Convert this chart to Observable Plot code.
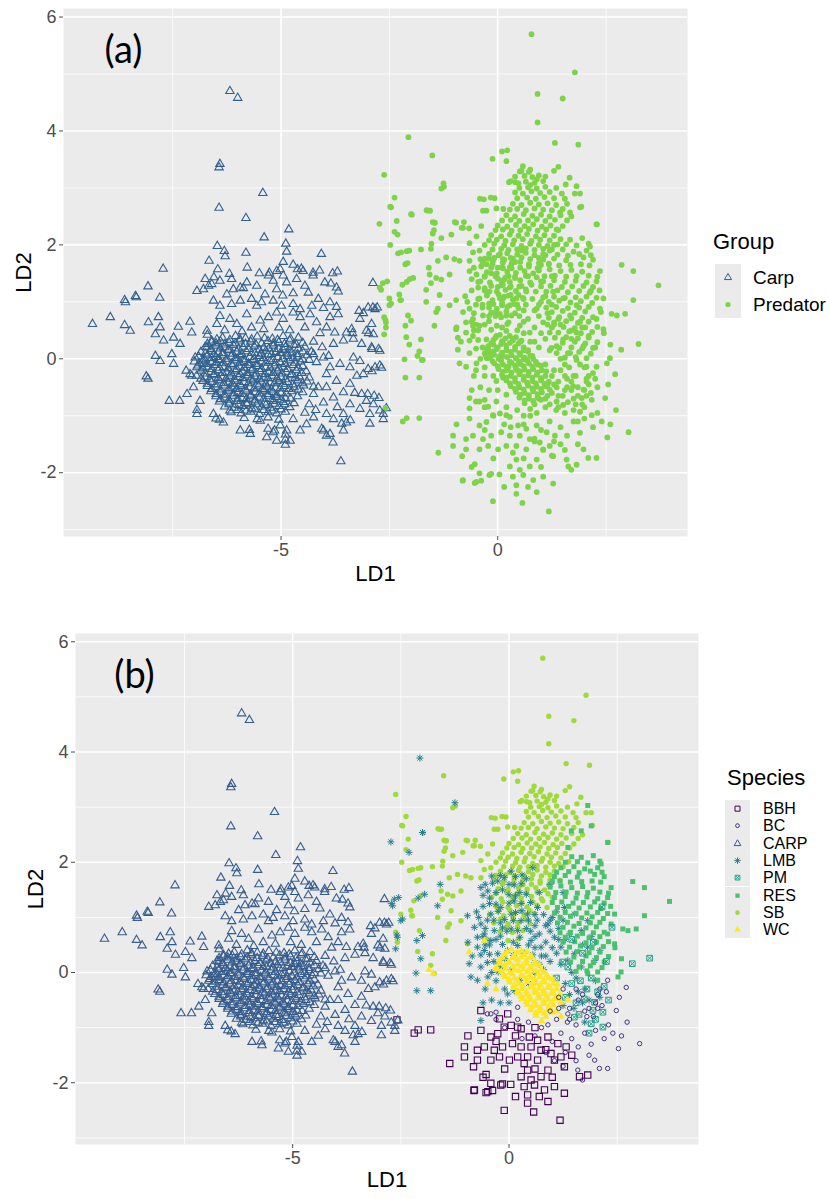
<!DOCTYPE html>
<html><head><meta charset="utf-8">
<script src="https://cdn.jsdelivr.net/npm/d3@7"></script>
<script src="https://cdn.jsdelivr.net/npm/@observablehq/plot@0.6"></script>
<style>
body{margin:0;background:#fff;font-family:"Liberation Sans",Arial,sans-serif;}
#wrap{position:relative;width:829px;height:1199px;overflow:hidden;}
.abs{position:absolute;white-space:nowrap;color:#000;}
</style></head><body><div id="wrap"></div>
<script>
// ---- axis ticks / labels ----
const xMajor = [-5, 0], xMinor = [-7.5, -2.5, 2.5];
const yMajor = [-2, 0, 2, 4, 6], yMinor = [-3, -1, 1, 3, 5];
const xDomain = [-10.02, 4.38], yDomain = [-3.12, 6.15];

// ---- categories ----
const groupNames = ["Carp", "Predator"];
const groupColors = ["#31608e", "#7ed348"];
const speciesNames = ["BBH", "BC", "CARP", "LMB", "PM", "RES", "SB", "WC"];
const speciesColors = ["#440154", "#46337E", "#365C8D", "#277F8E", "#1FA187", "#4AC16D", "#9FDA3A", "#FDE725"];

// ---- points [LD1, LD2] per species ----
const carp = [
[-6.18,4.70],[-6.00,4.58],[-6.41,3.42],[-6.43,3.36],[-5.42,2.91],[-6.43,2.65],[-5.81,2.47],[-4.82,2.27],[-5.39,2.13],[-4.89,2.02],[-6.47,1.98],[-6.31,1.89],[-6.29,1.80],[-5.81,1.86],[-4.07,1.84],[-4.87,1.88],[-7.72,1.58],[-6.66,1.72],[-6.46,1.57],[-5.78,1.60],[-4.95,1.70],[-4.72,1.65],[-4.53,1.58],[-5.50,1.50],[-5.27,1.51],[-5.10,1.54],[-5.02,1.57],[-4.62,1.57],[-4.49,1.54],[-4.26,1.51],[-4.11,1.55],[-3.70,1.53],[-3.81,1.50],[-2.88,1.33],[-8.07,1.27],[-6.94,1.19],[-6.75,1.40],[-6.55,1.43],[-6.19,1.49],[-6.14,1.40],[-6.60,1.31],[-6.41,1.37],[-5.94,1.25],[-5.79,1.34],[-5.56,1.28],[-5.29,1.46],[-5.18,1.37],[-4.95,1.46],[-4.87,1.34],[-4.64,1.40],[-4.45,1.28],[-4.26,1.46],[-3.99,1.34],[-3.72,1.25],[-3.85,1.32],[-3.68,1.18],[-6.79,1.22],[-6.67,1.28],[-8.36,1.10],[-7.80,1.07],[-8.61,1.03],[-8.34,1.08],[-8.59,0.99],
[-6.25,1.13],[-6.10,1.22],[-5.87,1.24],[-5.37,1.13],[-5.10,1.22],[-4.96,1.11],[-4.72,1.15],[-4.37,1.16],[-4.14,1.05],[-3.87,0.99],[-3.72,0.91],[-6.56,1.02],[-6.41,0.93],[-6.14,0.96],[-5.94,1.02],[-5.68,1.05],[-5.56,0.93],[-5.45,0.99],[-5.18,1.02],[-4.99,0.93],[-4.72,0.96],[-4.56,0.87],[-4.29,0.93],[-4.02,0.89],[-3.20,0.84],[-2.99,0.90],[-2.83,0.87],[-2.91,0.61],[-3.18,0.70],[-6.48,0.61],[-6.41,0.75],[-6.18,0.70],[-6.02,0.61],[-5.79,0.78],[-5.68,0.55],[-5.48,0.67],[-5.29,0.73],[-5.10,0.81],[-4.95,0.70],[-4.72,0.81],[-4.56,0.73],[-4.33,0.78],[-4.18,0.64],[-3.95,0.55],[-3.76,0.46],[-3.87,0.73],[-3.68,0.78],[-3.49,0.46],[-3.33,0.35],[-3.14,0.26],[-2.91,0.20],[-2.72,0.14],[-2.87,0.43],[-3.03,0.49],[-3.37,0.52],[-3.56,0.32],[-3.79,0.26],[-3.35,0.45],[-2.98,0.45],[-6.30,0.50],[-5.90,0.48],[-5.40,0.52],[-5.05,0.55],[-4.80,0.50],[-4.45,0.55],[-4.10,0.45],[-6.70,0.42],[-4.25,0.30],[-4.05,0.20],[-3.90,0.05],
[-9.35,0.61],[-8.94,0.73],[-8.61,0.59],[-8.48,0.49],[-8.06,0.64],[-7.83,0.73],[-7.79,0.55],[-7.90,0.43],[-7.71,0.32],[-7.48,0.37],[-7.33,0.26],[-7.37,0.56],[-7.10,0.65],[-7.06,0.46],[-7.90,0.05],[-7.79,-0.04],[-7.52,0.08],[-7.48,-0.09],[-8.11,-0.31],[-8.07,-0.35],[-7.19,-0.21],[-7.06,-0.30],[-6.94,-0.15],[-6.79,-0.09],[-6.98,0.02],[-6.71,0.20],[-6.60,0.32],[-6.71,0.49],[-7.58,-0.74],[-7.34,-0.74],[-6.94,-0.90],[-6.94,-0.97],[-6.33,-1.12],[-6.18,-0.91],[-6.56,-0.97],[-6.87,-0.74],[-7.02,-0.50],[-7.10,-0.27],[-7.17,-0.62],[-6.50,-1.05],[-6.42,-1.07],
[-5.73,-1.25],[-5.30,-1.23],[-5.15,-1.26],[-4.90,-1.33],[-4.90,-1.42],[-4.90,-1.51],[-4.06,-1.23],[-3.95,-1.35],[-3.80,-1.47],[-3.62,-1.80],[-3.60,-1.14],[-3.40,-1.08],[-2.95,-1.14],[-2.64,-0.97],[-2.57,-0.87],[-3.00,-0.62],[-2.85,-0.65],[-2.74,-0.69],[-2.68,-0.16],[-2.90,-0.22],[-2.75,0.17],[-2.90,0.17],[-3.10,0.80],[-2.88,0.90],[-2.78,0.90],
[-3.33,0.02],[-3.18,-0.04],[-2.99,-0.18],[-2.83,-0.15],[-2.72,-0.12],[-3.10,-0.27],[-3.41,-0.15],[-3.64,-0.09],[-3.87,-0.15],[-4.02,0.02],[-4.18,-0.06],[-4.25,0.08],[-3.95,-0.27],[-3.72,-0.39],[-3.41,-0.44],[-3.56,-0.59],[-3.79,-0.68],[-4.02,-0.77],[-4.25,-0.62],[-4.14,-0.50],[-3.95,-0.50],[-3.14,-0.62],[-3.03,-0.74],[-2.87,-0.80],[-2.72,-0.91],[-2.64,-1.06],[-2.95,-0.97],[-3.18,-0.88],[-3.41,-0.80],[-3.56,-0.97],[-3.79,-1.06],[-3.95,-0.97],[-3.49,-1.12],[-3.56,-1.26],[-3.87,-1.32],[-4.02,-1.26],[-4.25,-1.03],[-4.41,-1.15],[-4.56,-1.26],[-4.72,-1.06],[-4.87,-1.26],[-5.02,-1.17],[-5.18,-1.29],[-5.33,-1.38],[-5.10,-1.44],[-4.79,-1.44],[-5.71,-1.32],[-5.48,-1.09],[-5.94,-1.26],[-4.35,-0.80],[-4.20,-0.90],[-4.45,-0.95],[-3.70,-0.85],[-3.30,-0.60],[-3.25,-0.30],
[-6.35,0.37],[-6.05,0.40],[-5.82,0.36],[-5.55,0.39],[-5.20,0.35],[-4.95,0.40],[-4.60,0.37],
[-6.60,0.29],[-6.40,0.31],[-6.20,0.28],[-5.95,0.32],[-5.70,0.30],[-5.45,0.27],[-5.30,0.31],[-5.05,0.29],[-4.80,0.32],[-4.50,0.28],
[-6.75,0.21],[-6.50,0.23],[-6.30,0.20],[-6.10,0.24],[-5.88,0.21],[-5.62,0.22],[-5.40,0.19],[-5.18,0.23],[-4.90,0.20],[-4.70,0.24],[-4.45,0.21],
[-6.85,0.12],[-6.62,0.14],[-6.45,0.11],[-6.22,0.15],[-6.02,0.12],[-5.80,0.13],[-5.60,0.10],[-5.35,0.14],[-5.12,0.12],[-4.95,0.15],[-4.75,0.11],[-4.50,0.13],[-4.30,0.12],
[-6.90,0.04],[-6.70,0.06],[-6.50,0.03],[-6.35,0.07],[-6.15,0.04],[-5.95,0.06],[-5.72,0.03],[-5.50,0.05],[-5.30,0.07],[-5.08,0.03],[-4.85,0.05],[-4.62,0.04],[-4.40,0.06],
[-7.00,-0.05],[-6.80,-0.03],[-6.60,-0.06],[-6.42,-0.02],[-6.25,-0.05],[-6.05,-0.03],[-5.85,-0.06],[-5.65,-0.02],[-5.45,-0.05],[-5.25,-0.04],[-5.02,-0.06],[-4.80,-0.03],[-4.55,-0.05],[-4.35,-0.02],
[-6.92,-0.12],[-6.70,-0.14],[-6.52,-0.11],[-6.32,-0.15],[-6.12,-0.12],[-5.95,-0.14],[-5.75,-0.11],[-5.55,-0.13],[-5.35,-0.15],[-5.15,-0.12],[-4.95,-0.14],[-4.72,-0.11],[-4.50,-0.13],
[-6.85,-0.21],[-6.62,-0.23],[-6.45,-0.20],[-6.25,-0.24],[-6.05,-0.21],[-5.88,-0.23],[-5.68,-0.20],[-5.48,-0.22],[-5.28,-0.24],[-5.08,-0.21],[-4.88,-0.23],[-4.65,-0.20],[-4.42,-0.22],
[-6.95,-0.30],[-6.75,-0.32],[-6.55,-0.29],[-6.35,-0.33],[-6.18,-0.30],[-5.98,-0.32],[-5.78,-0.29],[-5.60,-0.31],[-5.40,-0.33],[-5.20,-0.30],[-5.00,-0.32],[-4.78,-0.29],[-4.58,-0.31],[-4.35,-0.33],
[-6.80,-0.39],[-6.60,-0.41],[-6.42,-0.38],[-6.22,-0.42],[-6.05,-0.39],[-5.85,-0.41],[-5.65,-0.38],[-5.45,-0.40],[-5.25,-0.42],[-5.05,-0.39],[-4.85,-0.41],[-4.62,-0.38],[-4.40,-0.40],
[-6.70,-0.48],[-6.50,-0.50],[-6.30,-0.47],[-6.12,-0.51],[-5.92,-0.48],[-5.72,-0.50],[-5.52,-0.47],[-5.32,-0.49],[-5.12,-0.51],[-4.92,-0.48],[-4.70,-0.50],[-4.48,-0.47],[-4.25,-0.49],
[-6.62,-0.57],[-6.40,-0.59],[-6.20,-0.56],[-6.00,-0.60],[-5.80,-0.57],[-5.60,-0.59],[-5.40,-0.56],[-5.20,-0.58],[-5.00,-0.60],[-4.75,-0.57],[-4.50,-0.59],
[-6.50,-0.66],[-6.30,-0.68],[-6.10,-0.65],[-5.90,-0.69],[-5.70,-0.66],[-5.50,-0.68],[-5.30,-0.65],[-5.10,-0.67],[-4.90,-0.69],[-4.62,-0.66],
[-6.42,-0.75],[-6.20,-0.77],[-6.00,-0.74],[-5.80,-0.78],[-5.60,-0.75],[-5.38,-0.77],[-5.18,-0.74],[-4.95,-0.76],[-4.70,-0.78],
[-6.30,-0.84],[-6.08,-0.86],[-5.88,-0.83],[-5.68,-0.87],[-5.45,-0.84],[-5.25,-0.86],[-5.05,-0.83],[-4.80,-0.85],
[-6.15,-0.94],[-5.92,-0.96],[-5.70,-0.93],[-5.50,-0.97],[-5.30,-0.94],[-5.10,-0.96],[-4.90,-0.93],
[-5.85,-1.04],[-5.55,-1.06],[-5.30,-1.03],[-5.05,-1.07],
[-6.48,0.34],[-6.18,0.33],[-5.95,0.35],[-5.68,0.34],[-5.38,0.36],[-5.08,0.33],[-4.78,0.35],
[-6.70,0.26],[-6.50,0.27],[-6.30,0.25],[-6.05,0.27],[-5.82,0.26],[-5.58,0.25],[-5.18,0.27],[-4.92,0.26],[-4.65,0.25],
[-6.62,0.17],[-6.40,0.18],[-6.20,0.16],[-5.98,0.18],[-5.75,0.17],[-5.50,0.16],[-5.28,0.18],[-5.05,0.17],[-4.82,0.16],[-4.60,0.18],
[-6.75,0.09],[-6.55,0.08],[-6.35,0.10],[-6.12,0.09],[-5.90,0.08],[-5.68,0.10],[-5.45,0.09],[-5.22,0.08],[-5.02,0.10],[-4.85,0.09],[-4.62,0.08],
[-6.78,0.00],[-6.60,0.01],[-6.45,-0.01],[-6.25,0.00],[-6.05,0.01],[-5.85,-0.01],[-5.62,0.00],[-5.40,0.01],[-5.18,-0.01],[-4.95,0.00],[-4.72,0.01],[-4.50,-0.01],
[-6.88,-0.08],[-6.70,-0.09],[-6.50,-0.07],[-6.33,-0.08],[-6.15,-0.09],[-5.95,-0.07],[-5.75,-0.08],[-5.55,-0.09],[-5.35,-0.07],[-5.13,-0.08],[-4.90,-0.09],[-4.68,-0.07],
[-6.80,-0.17],[-6.60,-0.18],[-6.42,-0.16],[-6.22,-0.17],[-6.02,-0.18],[-5.85,-0.16],[-5.65,-0.17],[-5.45,-0.18],[-5.25,-0.16],[-5.05,-0.17],[-4.85,-0.18],[-4.60,-0.16],
[-6.75,-0.26],[-6.55,-0.27],[-6.35,-0.25],[-6.15,-0.26],[-5.95,-0.27],[-5.78,-0.25],[-5.58,-0.26],[-5.38,-0.27],[-5.18,-0.25],[-4.98,-0.26],[-4.75,-0.27],[-4.52,-0.25],
[-6.85,-0.35],[-6.65,-0.36],[-6.45,-0.34],[-6.27,-0.35],[-6.08,-0.36],[-5.88,-0.34],[-5.70,-0.35],[-5.50,-0.36],[-5.30,-0.34],[-5.10,-0.35],[-4.90,-0.36],[-4.68,-0.34],
[-6.70,-0.44],[-6.50,-0.45],[-6.32,-0.43],[-6.12,-0.44],[-5.95,-0.45],[-5.75,-0.43],[-5.55,-0.44],[-5.35,-0.45],[-5.15,-0.43],[-4.95,-0.44],[-4.72,-0.45],[-4.50,-0.43],
[-6.60,-0.53],[-6.40,-0.54],[-6.20,-0.52],[-6.02,-0.53],[-5.82,-0.54],[-5.62,-0.52],[-5.42,-0.53],[-5.22,-0.54],[-5.02,-0.52],[-4.82,-0.53],[-4.60,-0.54],
[-6.50,-0.62],[-6.30,-0.63],[-6.10,-0.61],[-5.90,-0.62],[-5.70,-0.63],[-5.50,-0.61],[-5.30,-0.62],[-5.10,-0.63],[-4.88,-0.61],
[-6.40,-0.71],[-6.20,-0.72],[-6.00,-0.70],[-5.80,-0.71],[-5.60,-0.72],[-5.40,-0.70],[-5.20,-0.71],[-5.00,-0.72],[-4.78,-0.70],
[-6.20,-0.80],[-5.98,-0.81],[-5.78,-0.79],[-5.56,-0.80],[-5.35,-0.81],[-5.15,-0.79],[-4.92,-0.80],
[-6.00,-0.90],[-5.80,-0.91],[-5.60,-0.89],[-5.40,-0.90],[-5.20,-0.91],[-5.00,-0.89]
];

const bbh = [
[-2.59,-0.86],[-2.19,-1.10],[-2.10,-1.04],[-1.81,-1.04],[-1.37,-1.65],[-1.03,-1.35],[-1.03,-1.53],[-0.82,-1.71],[-0.53,-1.85],[-0.81,-2.14],[-0.53,-2.18],[-0.38,-2.14],[-0.15,-2.02],[0.04,-2.03],
[-0.65,-0.69],[-0.22,-0.84],[-0.03,-0.75],[0.20,-0.99],[-0.65,-1.05],[-0.42,-1.17],[-0.26,-1.11],[-0.11,-0.99],[0.05,-0.96],[0.28,-1.02],[0.47,-1.17],[0.66,-1.23],[0.90,-1.17],[1.13,-1.29],[1.32,-1.35],[1.20,-1.53],[0.97,-1.47],[0.74,-1.41],[0.51,-1.35],[0.28,-1.35],[0.08,-1.29],[-0.15,-1.35],[-0.34,-1.41],[-0.57,-1.35],[-0.73,-1.41],[-0.73,-1.59],[-0.42,-1.59],[-0.22,-1.53],[0.01,-1.59],[0.20,-1.53],[0.43,-1.53],[0.66,-1.59],[1.05,-1.59],[1.28,-1.71],[0.90,-1.77],[0.43,-1.77],[0.28,-1.89],[0.51,-1.95],[0.74,-1.89],[0.35,-2.07],[0.59,-2.04],[0.82,-2.13],[1.05,-2.07],[1.28,-2.19],[0.43,-2.22],[0.43,-2.37],[0.90,-2.34],[-0.42,-2.01],[-0.19,-2.04],[-0.80,-2.13],[-0.49,-2.16],[-0.11,-2.50],[0.57,-2.53],[1.18,-2.68],[1.82,-1.86],[1.63,-1.89],
[-0.30,-1.25],[0.15,-1.15],[0.60,-1.00],[0.85,-1.40],[0.35,-1.65],[-0.10,-1.75],[0.60,-1.75],[1.00,-1.90],[0.15,-2.25],[0.70,-2.25],[-0.60,-1.90],[-0.95,-1.15],[1.45,-1.50]
];

const bc = [
[2.71,-0.27],[3.02,-1.29],[2.73,-0.90],[2.53,-1.38],[1.98,-1.59],[2.09,-1.74],[2.28,-1.74],[1.59,-1.77],[1.55,-1.60],[2.48,-0.69],[2.28,-0.14],[2.10,-0.30],[2.05,-0.40],[2.30,-0.95],[2.20,-1.20],[2.40,-1.10],[1.90,-1.30],[1.75,-1.10],[1.60,-1.35],[1.45,-1.20],[1.30,-1.45],[1.20,-1.10],[1.00,-1.25],[0.90,-0.95],[1.10,-0.85],[1.35,-0.90],[1.55,-0.95],[1.75,-0.70],[1.95,-0.80],[2.15,-0.60],[1.40,-0.65],[0.75,-1.00],[0.60,-1.15],[0.45,-0.90],[0.30,-1.20],[0.20,-0.85],[-0.10,-1.00],[-0.30,-0.85],[-0.50,-0.75],[1.85,-1.50],[1.05,-1.60],[0.85,-1.45],[1.60,-0.50],[2.55,-0.45],[1.25,-1.70],[2.00,-1.05],[2.60,-1.15],[1.70,-1.95],[-0.42,-0.75],[-0.30,-0.72],[0.20,-0.63],[1.36,-0.75],
[0.95,-0.70],[1.15,-0.65],[1.70,-0.40],[1.85,-0.65],[2.05,-0.65],[1.25,-0.30],[1.55,-0.30],[2.00,-0.55],[1.80,-0.80],[1.40,-0.85],[2.25,-0.35],[1.15,-0.45]
];

const lmb = [
[-2.06,3.89],[-1.25,3.08],[-2.00,2.54],[-2.73,2.37],[-2.31,2.18],[-1.59,1.60],[-2.65,1.33],[-2.55,1.36],[-2.72,1.25],[-2.10,1.35],[-1.95,1.42],[-1.65,1.21],[-0.96,1.03],[-2.46,0.97],[-2.00,0.67],[-2.58,0.64],[-2.62,0.43],[-2.04,0.25],[-2.15,-0.01],[-2.13,-0.33],[-1.81,-0.33],[-0.92,0.16],[-0.73,-0.14],[-0.65,-0.87],[-2.59,0.68],[-2.13,0.58],[-2.50,0.94],[-2.69,1.21],
[-0.65,1.54],[-0.49,1.48],[-0.26,1.66],[-0.11,1.72],[0.05,1.84],[-0.80,0.82],[-0.65,0.88],[-0.57,0.70],[-0.34,0.76],[-0.42,0.58],[-0.73,0.46],[-0.57,0.40],[-0.26,0.34],[-0.03,0.40],[-0.42,1.06],[-0.19,1.18],[0.12,1.30],[0.28,0.94],[0.43,1.06],[0.66,1.18],[0.90,0.88],[1.05,0.64],[1.20,0.46],[1.36,0.22],[1.67,0.10],[1.51,0.34],[1.82,0.46],[1.98,0.22],[1.67,0.76],[1.82,0.94],[1.51,1.06],[1.28,1.18],[0.51,0.58],[0.74,0.46],[0.20,0.76],[0.05,1.06],[-0.65,0.10],[-0.49,-0.08],[-0.88,-0.08],[-0.19,0.10],[0.12,-0.33],[-0.03,-0.39],[-0.73,0.64],
[-0.45,1.35],[-0.30,1.45],[-0.15,1.50],[0.00,1.60],[-0.60,1.20],[-0.50,0.95],[-0.20,0.90],[-0.05,0.75],[0.10,0.55],[-0.35,0.20],[-0.10,0.25],[0.25,1.45],[0.40,1.70],[0.55,1.90],[0.35,0.35],[0.60,0.85],[0.85,0.30],[1.00,1.00],[1.15,0.80],[1.40,0.70],[1.70,0.50],[1.90,0.65],[1.55,-0.10],[1.75,-0.30],[2.00,-0.15],[1.30,-0.20],[0.80,0.05],[-0.55,0.50],[-0.85,0.30],[-0.95,0.55],[-0.70,1.00],[-0.30,0.60],[0.05,0.05],[0.45,-0.20],[2.10,0.40],[1.25,1.45],[0.95,1.60],[0.70,1.45],
[-0.40,1.75],[-0.20,1.76],[0.15,1.74],[0.30,1.77],[-0.55,1.60],[-0.38,1.62],[0.12,1.59],[0.28,1.61],[-0.60,1.40],[0.00,1.41],[0.15,1.39],[0.40,1.42],[-0.45,1.25],[-0.30,1.24],[0.00,1.26],[0.28,1.25],[0.50,1.27],[-0.75,1.10],[-0.25,1.11],[0.15,1.09],[0.30,1.12],
[-0.35,0.95],[-0.10,0.96],[0.10,0.94],[0.45,0.95],[-0.55,0.80],[-0.15,0.81],[0.05,0.79],[0.40,0.80],[-0.60,0.65],[-0.20,0.66],[0.25,0.64],[0.60,0.65],[-0.45,0.50],[-0.15,0.51],[0.20,0.49],[0.45,0.50],[-0.65,0.32],[-0.45,0.33],[0.10,0.31],[0.55,0.32],[-0.50,0.18],[-0.25,0.17],[0.60,0.18],[-0.40,0.00],[-0.25,0.01],[0.60,-0.01],[-0.30,-0.15],[0.25,-0.14],
[1.40,-0.40],[1.60,-0.35],[1.85,-0.50],[2.10,-0.45],[1.25,-0.60],[1.50,-0.65],[1.75,-0.90],[1.45,0.00],[1.70,-0.55],
[0.65,0.95],[0.80,1.05],[0.95,0.75],[0.70,0.70],[0.85,0.55],[1.00,0.45],[0.75,0.30],[0.95,0.20],[1.10,0.35],[1.15,0.60],[0.60,0.45],[0.50,0.75],[0.95,0.95],[1.10,1.10],[0.85,0.85],[0.60,1.05],[0.70,0.15],[1.20,0.15],[1.25,0.95],[1.30,0.60],
[-0.55,-0.30],[-0.40,-0.50],[-0.20,-0.55],[-0.60,-0.55],[0.00,-0.55],[-0.10,-0.30]
];

const pm = [
[2.15,1.19],[2.38,0.82],[2.85,0.16],[3.25,0.26],[1.74,-0.48],[1.98,-0.54],[1.94,-0.69],[2.17,-0.72],[1.51,-0.81],[1.62,-0.76],[1.90,-0.93],[2.17,-0.99],[1.24,0.19],[1.36,0.10],[1.80,-0.30],[2.05,-0.35],[1.55,-0.55],[1.30,-0.45],[2.30,-0.50],[1.70,0.35],[1.95,0.55],[2.25,0.20],[1.45,0.60],[1.10,-0.10],[1.85,-1.10],[2.00,-0.85],
[1.45,-0.20],[1.65,-0.15],[1.90,-0.10],[2.20,-0.25]
];

const res = [
[1.82,3.03],[1.90,2.66],[2.28,2.36],[1.67,2.57],[1.44,2.57],[1.36,2.27],[2.13,1.97],[2.86,1.65],[3.13,1.54],[3.71,1.29],[3.13,1.03],[2.94,0.79],[2.75,0.76],[2.63,0.79],[2.59,0.01],[2.52,-0.08],[2.05,-0.14],[1.82,-0.02],[2.45,0.45],[2.60,0.25],
[1.45,2.10],[1.67,2.09],[1.95,2.12],[1.20,1.90],[1.50,1.92],[1.75,1.88],[2.05,1.90],[1.05,1.74],[1.30,1.76],[1.58,1.73],[1.98,1.78],[2.20,1.74],
[0.95,1.55],[1.20,1.57],[1.45,1.54],[1.70,1.56],[1.95,1.53],[2.36,1.54],[1.05,1.36],[1.30,1.38],[1.55,1.35],[1.80,1.37],[2.05,1.34],[2.28,1.36],
[1.12,1.18],[1.38,1.20],[1.62,1.17],[1.88,1.19],[2.12,1.16],[2.35,1.20],[1.18,1.00],[1.42,1.02],[1.68,0.99],[1.92,1.01],[2.18,0.98],[2.44,1.06],
[1.25,0.82],[1.50,0.84],[1.78,0.81],[2.02,0.83],[2.36,0.88],[1.30,0.64],[1.58,0.66],[1.85,0.63],[2.10,0.65],[2.28,0.70],
[1.40,0.46],[1.65,0.48],[1.92,0.45],[2.18,0.47],[2.44,0.52],[1.50,0.28],[1.78,0.30],[2.02,0.27],[2.30,0.29],[1.62,0.10],[1.88,0.12],[2.15,0.09],
[1.30,2.00],[1.58,2.01],[1.82,1.99],[2.10,2.02],[1.10,1.82],[1.38,1.83],[1.62,1.81],[1.88,1.84],[2.15,1.82],[1.00,1.65],[1.18,1.66],[1.42,1.64],[1.68,1.65],[1.92,1.66],[2.12,1.64],
[1.08,1.45],[1.32,1.46],[1.58,1.44],[1.82,1.45],[2.10,1.46],[2.30,1.44],[1.00,1.27],[1.22,1.28],[1.48,1.26],[1.72,1.27],[1.98,1.28],[2.20,1.26],
[1.05,1.08],[1.30,1.09],[1.55,1.07],[1.80,1.08],[2.05,1.09],[2.28,1.07],[1.12,0.90],[1.35,0.91],[1.62,0.89],[1.88,0.90],[2.10,0.91],
[1.18,0.72],[1.42,0.73],[1.70,0.71],[1.95,0.72],[2.20,0.73],[1.25,0.55],[1.52,0.56],[1.78,0.54],[2.02,0.55],[2.30,0.56],
[1.32,0.37],[1.58,0.38],[1.85,0.36],[2.10,0.37],[1.42,0.19],[1.70,0.20],[1.95,0.18],[2.20,0.19],[1.55,0.02],[1.80,0.03],[2.05,0.01]
];

const sb = [
[0.78,5.70],[1.78,5.03],[0.92,4.65],[1.50,4.57],[0.92,4.15],[1.32,3.79],[1.86,3.76],[-1.51,3.57],[-2.62,3.23],[-1.30,2.99],[-1.24,3.02],[-0.12,3.51],[0.10,3.64],[0.22,3.66],[0.20,3.47],[0.58,3.38],[0.75,3.32],[0.51,3.29],[1.30,3.30],[0.26,3.10],[0.41,3.10],[0.75,3.05],[0.90,3.15],[1.10,3.20],[1.40,3.37],[1.57,3.06],[1.66,3.18],[1.78,2.90],[1.90,2.90],[1.93,2.67],[2.29,2.36],[-2.38,2.83],[-0.32,2.80],[-0.07,2.82],[-0.41,2.81],[-0.16,2.83],[-0.03,2.64],[0.13,2.63],[-0.26,2.60],[-1.56,2.60],[-1.64,2.61],[-1.98,2.53],[-0.78,2.40],[-0.66,2.29],[-1.45,2.39],[-1.47,2.26],[-1.50,2.40],[-1.50,2.20],[-1.53,2.02],[-0.99,2.40],[-0.83,2.30],
[-2.48,2.67],[-2.33,2.42],[-2.38,2.23],[-2.48,2.00],[-2.30,1.85],[-2.10,1.89],[-2.13,1.66],[-2.20,1.30],[-2.03,1.40],[-2.50,1.06],[-2.27,1.13],[-2.62,0.73],[-2.07,0.76],[-2.58,0.55],[-2.11,0.38],[-2.25,1.03],
[-2.46,2.66],[-2.23,1.87],[-2.04,1.90],[-1.77,1.92],[-2.08,1.68],[-1.61,2.60],[-1.46,2.39],[-1.30,2.12],[-1.07,2.18],[-0.96,2.39],[-0.80,2.30],[-1.19,1.78],[-1.00,1.75],[-1.38,1.72],[-1.54,1.93],[-0.34,2.60],[-0.65,2.03],[-0.49,2.15],[-0.38,2.33],[-0.57,1.87],[-0.42,1.90],
[-1.57,1.48],[-1.42,1.42],[-1.30,1.39],[-1.11,1.48],[-1.54,1.33],[-1.34,1.12],[-1.65,1.00],[-2.23,1.03],[-1.38,0.88],[-1.42,0.82],[-1.11,0.94],[-0.96,0.52],[-1.46,0.58],[-1.77,0.34],[-1.81,0.13],[-1.73,-0.02],[-0.88,1.72],[-0.65,1.72],
[0.55,3.30],[0.72,3.28],[0.30,3.12],[0.48,3.08],[0.65,3.11],[0.85,3.09],[1.05,3.12],
[0.40,2.92],[0.58,2.90],[0.78,2.94],[0.98,2.91],[1.20,2.93],[1.48,2.90],
[0.35,2.72],[0.55,2.70],[0.75,2.74],[0.95,2.71],[1.15,2.73],[1.35,2.70],[1.60,2.72],
[0.20,2.52],[0.40,2.50],[0.60,2.54],[0.80,2.51],[1.00,2.53],[1.20,2.50],[1.45,2.52],[1.70,2.50],
[0.00,2.34],[0.22,2.32],[0.42,2.35],[0.62,2.33],[0.82,2.36],[1.02,2.32],[1.22,2.34],[1.50,2.33],
[-0.15,2.17],[0.08,2.15],[0.28,2.18],[0.48,2.16],[0.68,2.19],[0.88,2.15],[1.08,2.17],[1.30,2.16],
[-0.30,2.00],[-0.08,2.02],[0.15,1.99],[0.35,2.01],[0.55,1.98],[0.75,2.02],[0.95,2.00],[1.15,1.98],[1.38,2.01],
[-0.20,1.84],[0.02,1.82],[0.22,1.85],[0.45,1.83],[0.65,1.86],[0.85,1.82],[1.05,1.84],
[-0.35,1.68],[-0.12,1.66],[0.12,1.69],[0.32,1.67],[0.52,1.70],[0.72,1.66],[0.95,1.68],[1.18,1.67],
[-0.25,1.52],[-0.02,1.50],[0.22,1.53],[0.42,1.51],[0.62,1.54],[0.82,1.50],
[-0.40,1.36],[-0.18,1.34],[0.08,1.37],[0.28,1.35],[0.52,1.38],[0.75,1.34],[1.00,1.36],
[-0.30,1.20],[-0.02,1.18],[0.18,1.21],[0.42,1.19],[0.65,1.22],[0.88,1.18],
[-0.45,1.05],[-0.12,1.03],[0.12,1.06],[0.35,1.04],[0.58,1.07],
[-0.35,0.90],[-0.02,0.88],[0.22,0.91],[0.48,0.89],
[-0.20,0.75],[0.08,0.73],[0.32,0.76],[-0.50,0.60],[-0.02,0.58],[0.22,0.61],
[0.40,3.20],[0.62,3.21],[0.80,3.19],[0.95,3.22],[0.50,3.00],[0.70,3.01],[0.90,2.99],[1.10,3.02],[1.35,3.00],
[0.45,2.82],[0.68,2.83],[0.88,2.81],[1.08,2.84],[1.30,2.82],[1.55,2.81],[0.28,2.62],[0.45,2.63],[0.65,2.61],[0.85,2.64],[1.05,2.62],[1.25,2.61],[1.50,2.63],
[0.10,2.43],[0.30,2.44],[0.50,2.42],[0.70,2.43],[0.90,2.45],[1.10,2.42],[1.32,2.44],[1.60,2.43],
[-0.05,2.26],[0.12,2.27],[0.32,2.25],[0.52,2.26],[0.72,2.28],[0.92,2.25],[1.12,2.27],[1.40,2.26],
[-0.20,2.08],[-0.02,2.09],[0.18,2.07],[0.38,2.08],[0.58,2.10],[0.78,2.07],[0.98,2.09],[1.20,2.08],
[-0.12,1.92],[0.08,1.93],[0.25,1.91],[0.45,1.92],[0.65,1.94],[0.85,1.91],[1.05,1.93],[1.25,1.92],
[-0.30,1.76],[-0.08,1.77],[0.12,1.75],[0.35,1.76],[0.55,1.78],[0.75,1.75],[0.95,1.77],
[-0.15,1.60],[0.10,1.61],[0.32,1.59],[0.52,1.60],[0.72,1.62],[0.92,1.59],
[-0.30,1.44],[-0.05,1.45],[0.18,1.43],[0.40,1.44],[0.65,1.46],[0.90,1.43],
[-0.15,1.28],[0.08,1.29],[0.30,1.27],[0.55,1.28],[0.78,1.30],
[-0.25,1.12],[0.02,1.13],[0.25,1.11],[0.48,1.12],[-0.20,0.97],[0.10,0.98],[0.38,0.96],[-0.05,0.82],[0.20,0.83]
];

const wc = [
[-0.92,0.37],[-0.57,0.58],[-0.50,-0.20],[-0.30,-0.30],[-1.85,0.05],[-1.75,-0.02],[1.36,-0.50],[1.20,-0.80],
[0.05,0.42],[0.28,0.40],[-0.10,0.33],[0.12,0.30],[0.35,0.32],[0.52,0.30],
[-0.22,0.22],[0.00,0.20],[0.20,0.23],[0.40,0.21],[0.60,0.20],
[-0.30,0.10],[-0.10,0.13],[0.10,0.11],[0.30,0.12],[0.50,0.10],[0.70,0.13],
[-0.18,0.02],[0.02,0.00],[0.22,0.03],[0.42,0.01],[0.62,0.02],[0.82,0.00],
[-0.08,-0.08],[0.12,-0.10],[0.32,-0.07],[0.52,-0.09],[0.72,-0.08],[0.92,-0.10],
[0.02,-0.18],[0.22,-0.20],[0.42,-0.17],[0.62,-0.19],[0.82,-0.18],[1.02,-0.20],
[0.10,-0.28],[0.30,-0.30],[0.50,-0.27],[0.70,-0.29],[0.90,-0.28],[1.10,-0.30],
[0.20,-0.38],[0.40,-0.40],[0.60,-0.37],[0.80,-0.39],[1.00,-0.38],[1.18,-0.40],
[0.30,-0.48],[0.50,-0.50],[0.70,-0.47],[0.90,-0.49],[1.10,-0.48],
[0.42,-0.58],[0.62,-0.60],[0.82,-0.57],[1.02,-0.59],
[0.50,-0.68],[0.72,-0.70],[0.92,-0.67],[1.10,-0.70],[0.62,-0.78],[0.85,-0.80],[0.75,-0.88],
[-0.05,0.37],[0.18,0.36],[0.42,0.38],[-0.15,0.27],[0.08,0.26],[0.28,0.28],[0.48,0.27],
[-0.22,0.16],[-0.02,0.17],[0.20,0.15],[0.40,0.16],[0.60,0.15],[-0.28,0.06],[-0.08,0.07],[0.12,0.05],[0.32,0.06],[0.52,0.07],[0.75,0.05],
[-0.12,-0.04],[0.08,-0.03],[0.28,-0.05],[0.48,-0.04],[0.68,-0.03],[0.88,-0.05],[0.00,-0.13],[0.20,-0.14],[0.40,-0.12],[0.60,-0.13],[0.80,-0.14],[1.00,-0.12],
[0.12,-0.23],[0.32,-0.24],[0.52,-0.22],[0.72,-0.23],[0.92,-0.24],[1.12,-0.22],[0.20,-0.33],[0.40,-0.34],[0.60,-0.32],[0.80,-0.33],[1.00,-0.34],
[0.28,-0.43],[0.48,-0.44],[0.68,-0.42],[0.88,-0.43],[1.08,-0.44],[0.40,-0.53],[0.60,-0.54],[0.80,-0.52],[1.00,-0.53],[1.20,-0.54],
[0.52,-0.63],[0.72,-0.64],[0.92,-0.62],[0.62,-0.73],[0.82,-0.74],[1.00,-0.72]
];

// ---- drawing ----
const root = document.getElementById("wrap");
const FONT = "'Liberation Sans', Arial, Helvetica, sans-serif";
const px = d => d[0], py = d => d[1];
const fmt = d => String(d);

function dots(data, symbol, r, color, filled, sw = 1) {
  return Plot.dot(data, filled
    ? {x: px, y: py, symbol, r, fill: color, stroke: "none"}
    : {x: px, y: py, symbol, r, stroke: color, fill: "none", strokeWidth: sw});
}

function makePanel(o) {
  const svg = Plot.plot({
    width: o.width, height: o.height,
    marginTop: o.mt, marginBottom: o.mb, marginLeft: o.ml, marginRight: o.mr,
    x: {domain: xDomain, axis: null},
    y: {domain: yDomain, axis: null},
    style: {fontFamily: FONT, background: "transparent", overflow: "visible"},
    marks: [
      Plot.frame({fill: "#ebebeb", stroke: null}),
      Plot.ruleX(xMinor, {stroke: "#ffffff", strokeWidth: 0.8}),
      Plot.ruleY(yMinor, {stroke: "#ffffff", strokeWidth: 0.8}),
      Plot.ruleX(xMajor, {stroke: "#ffffff", strokeWidth: 1.6}),
      Plot.ruleY(yMajor, {stroke: "#ffffff", strokeWidth: 1.6}),
      ...o.layers,
      Plot.axisX(xMajor, {tickSize: 4, tickPadding: 3, fontSize: 18, color: "#4d4d4d", label: null, tickFormat: fmt}),
      Plot.axisY(yMajor, {tickSize: 4, tickPadding: 3, fontSize: 18, color: "#4d4d4d", label: null, tickFormat: fmt}),
      Plot.text(["LD1"], {text: d => d, frameAnchor: "bottom", dy: o.xlabDy, fontSize: 22, fill: "#000"}),
      Plot.text(["LD2"], {text: d => d, frameAnchor: "left", dx: o.ylabDx, rotate: -90, textAnchor: "middle", fontSize: 22, fill: "#000"}),
      Plot.text([o.label], {text: d => d, frameAnchor: "top-left", dx: o.labDx, dy: o.labDy, textAnchor: "middle", lineAnchor: "middle", fontSize: 38, fontFamily: "Lato, 'Open Sans', sans-serif", fill: "#000"})
    ]
  });
  svg.style.position = "absolute";
  svg.style.left = "0px";
  svg.style.top = o.top + "px";
  root.appendChild(svg);
}

const predators = [...bbh, ...bc, ...lmb, ...pm, ...res, ...sb, ...wc];

makePanel({
  top: 0, width: 700, height: 600, mt: 8, mb: 64, ml: 63, mr: 13,
  xlabDy: 44, ylabDx: -40, label: "(a)", labDx: 60, labDy: 42,
  layers: [
    dots(carp, "triangle2", 4, groupColors[0], false, 1.1),
    dots(predators, "circle", 2.9, groupColors[1], true)
  ]
});

makePanel({
  top: 600, width: 710, height: 599, mt: 33, mb: 55, ml: 75, mr: 12,
  xlabDy: 42, ylabDx: -40, label: "(b)", labDx: 59, labDy: 42,
  layers: [
    dots(sb, "circle", 2.7, speciesColors[6], true),
    dots(lmb, "plus", 2.4, speciesColors[3], false, 1),
    dots(lmb, "times", 2.4, speciesColors[3], false, 1),
    dots(res, "square", 2.8, speciesColors[5], true),
    dots(pm, "square2", 3.6, speciesColors[4], false, 1),
    dots(pm, "times", 2.2, speciesColors[4], false, 1),
    dots(wc, "triangle", 2.8, speciesColors[7], true),
    dots(bc, "circle", 2.2, speciesColors[1], false, 1),
    dots(bbh, "square2", 4, speciesColors[0], false, 1.1),
    dots(carp, "triangle2", 4, speciesColors[2], false, 1.1)
  ]
});

// ---- legends ----
function symPath(name, r) {
  const t = {circle: d3.symbolCircle, square: d3.symbolSquare, square2: d3.symbolSquare2,
    triangle: d3.symbolTriangle, triangle2: d3.symbolTriangle2, plus: d3.symbolPlus, times: d3.symbolTimes}[name];
  return d3.symbol(t, Math.PI * r * r)();
}
function keySvg(w, h, parts) {
  let s = `<svg width="${w}" height="${h}" style="display:block;background:#ebebeb"><g transform="translate(${w/2},${h/2})">`;
  for (const p of parts) {
    s += `<path d="${symPath(p.s, p.r)}" fill="${p.fill || "none"}" stroke="${p.stroke || "none"}" stroke-width="${p.sw || 1}"/>`;
  }
  return s + "</g></svg>";
}
function addDiv(html, left, top, style) {
  const d = document.createElement("div");
  d.className = "abs";
  d.style.left = left + "px"; d.style.top = top + "px";
  Object.assign(d.style, style || {});
  d.innerHTML = html;
  root.appendChild(d);
  return d;
}

// Legend (a)
addDiv("Group", 713, 231, {fontSize: "22px", lineHeight: "22px"});
const groupKeys = [
  [{s: "triangle2", r: 3.4, stroke: groupColors[0], sw: 1}],
  [{s: "circle", r: 2.6, fill: groupColors[1]}]
];
groupNames.forEach((g, i) => {
  addDiv(keySvg(26, 27, groupKeys[i]), 715, 264 + i * 27);
  addDiv(g, 753, 264 + i * 27, {fontSize: "19px", lineHeight: "27px"});
});

// Legend (b)
addDiv("Species", 727, 767, {fontSize: "22px", lineHeight: "22px"});
const speciesKeys = [
  [{s: "square2", r: 3.2, stroke: speciesColors[0], sw: 1}],
  [{s: "circle", r: 1.9, stroke: speciesColors[1], sw: 1}],
  [{s: "triangle2", r: 3.2, stroke: speciesColors[2], sw: 1}],
  [{s: "plus", r: 2.2, stroke: speciesColors[3]}, {s: "times", r: 2.2, stroke: speciesColors[3]}],
  [{s: "square2", r: 3.0, stroke: speciesColors[4]}, {s: "times", r: 1.8, stroke: speciesColors[4]}],
  [{s: "square", r: 2.4, fill: speciesColors[5]}],
  [{s: "circle", r: 2.3, fill: speciesColors[6]}],
  [{s: "triangle", r: 2.5, fill: speciesColors[7]}]
];
speciesNames.forEach((sp, i) => {
  const top = 800 + i * 17.3;
  addDiv(keySvg(25, 17.3, speciesKeys[i]), 725, top);
  addDiv(sp, 763, top, {fontSize: "16px", lineHeight: "17.3px"});
});
</script>
</body></html>
